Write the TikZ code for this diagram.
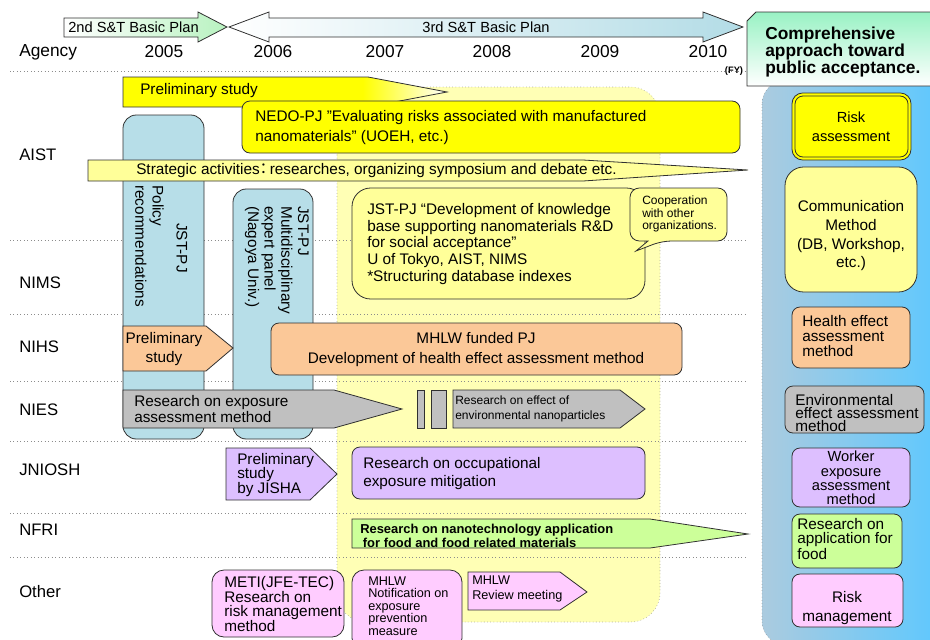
\documentclass[tikz,border=0pt]{standalone}
\usepackage{fontspec}
\setmainfont{Liberation Sans}
\newfontfamily\cjkfont{Noto Sans CJK JP}
\usetikzlibrary{positioning}
\definecolor{edge}{HTML}{303030}
\definecolor{rowdot}{HTML}{8C8C8C}
\definecolor{plangreen}{HTML}{B8F2C0}
\definecolor{planblue}{HTML}{B3DCE6}
\definecolor{bgyel}{HTML}{FFFFB5}
\definecolor{aistyel}{HTML}{FFFF00}
\definecolor{paleyel}{HTML}{FFFF99}
\definecolor{colblue}{HTML}{B7DEE8}
\definecolor{nihsorange}{HTML}{FBC898}
\definecolor{niesgray}{HTML}{C0C0C0}
\definecolor{jnioshlav}{HTML}{DDBFFF}
\definecolor{nfrigreen}{HTML}{CCFF99}
\definecolor{otherpink}{HTML}{FFCCFF}
\definecolor{mintfill}{HTML}{99F2C4}
\definecolor{panelleft}{HTML}{ABCBDF}
\definecolor{panelright}{HTML}{5CC8FF}
\pgfdeclarehorizontalshading{prelimfade}{100bp}{color(0bp)=(aistyel); color(25bp)=(aistyel); color(62bp)=(aistyel); color(75bp)=(white); color(100bp)=(white)}

\begin{document}
\begin{tikzpicture}[x=0.75pt,y=-0.75pt,
  outline/.style={draw=edge,line width=0.6pt},
  rbox/.style={outline,rounded corners=6pt},
  rowline/.style={draw=rowdot,dotted,line width=0.6pt},
  txt/.style={inner sep=0pt,align=left,font=\fontsize{11.5}{13}\selectfont},
  agency/.style={inner sep=0pt,anchor=west,font=\fontsize{12.5}{14}\selectfont},
  year/.style={inner sep=0pt,font=\fontsize{13}{15}\selectfont}]
  \clip (0,0) rectangle (930,639);

  % 3rd plan period
  \draw[rowdot,dotted,fill=bgyel,rounded corners=22pt] (337,87) rectangle (660,622);
  \foreach \yy in {71,240,314,381,441,513,557}
    \draw[rowline] (10,\yy) -- (745,\yy);

  % basic plans
  \draw[outline,left color=white,right color=plangreen] (64,18) -- (198,18) -- (198,12) -- (227,27) -- (198,42) -- (198,37) -- (64,37) -- cycle;
  \draw[outline,left color=white,right color=planblue] (229,27) -- (269,12) -- (269,18) -- (703,18) -- (703,12) -- (743,27) -- (703,42) -- (703,37) -- (269,37) -- (269,42) -- cycle;
  \node[txt,anchor=west,font=\fontsize{11}{13}\selectfont] (plan2) at (68,27) {2nd S\&T Basic Plan};
  \node[txt,font=\fontsize{11}{13}\selectfont] (plan3) at (486,27) {3rd S\&T Basic Plan};

  \node[agency,font=\fontsize{13}{15}\selectfont] (agency) at (19,52) {Agency};
  \foreach \yr/\xx in {2005/164,2006/273,2007/385,2008/492,2009/600,2010/708}
    \node[year] (y\yr) at (\xx,52) {\yr};
  \node[inner sep=0pt,font=\fontsize{7}{8}\selectfont\bfseries] (fy) at (734,71) {(FY)};
  \foreach \ag/\yy in {AIST/155,NIMS/283,NIHS/347,NIES/410,JNIOSH/470,NFRI/530,Other/592}
    \node[agency] (\ag) at (19,\yy) {\ag};

  % JST columns
  \draw[rbox,fill=colblue,rounded corners=10pt] (123,115) rectangle (204,439);
  \draw[rbox,fill=colblue,rounded corners=10pt] (233,189) rectangle (313,439);
  \node[txt,rotate=-90] (jstpj) at (182,248) {JST-PJ};
  \node[txt,rotate=-90,anchor=north west] (policy) at (164,185) {Policy\\recommendations};
  \node[txt,rotate=-90,anchor=north west,font=\fontsize{11.5}{12.5}\selectfont] (multi) at (309,206) {JST-PJ\\Multidisciplinary\\expert panel\\(Nagoya Univ.)};

  % AIST
  \draw[outline,shading=prelimfade] (123,77) -- (368,77) -- (447,92) -- (368,107) -- (123,107) -- cycle;
  \node[txt,anchor=west] (prelimaist) at (140,91) {Preliminary study};
  \draw[rbox,fill=aistyel] (242,101) rectangle (740,153);
  \node[txt,anchor=west,font=\fontsize{11.5}{15}\selectfont] (nedo) at (255,128) {NEDO-PJ ”Evaluating risks associated with manufactured\\nanomaterials” (UOEH, etc.)};
  \draw[outline,fill=paleyel] (88,160) -- (583,160) -- (748,170) -- (583,181) -- (88,181) -- cycle;
  \node[txt,anchor=west] (strategic) at (136,171) {Strategic activities{\cjkfont\kern-3pt ：\kern-1pt}researches, organizing symposium and debate etc.};
  \draw[rbox,fill=paleyel,rounded corners=14pt] (352,188) rectangle (645,299);
  \node[txt,anchor=west,font=\fontsize{11.5}{12.5}\selectfont] (jstdev) at (367,244) {JST-PJ “Development of knowledge\\base supporting nanomaterials R\&D\\for social acceptance”\\U of Tokyo, AIST, NIMS\\*Structuring database indexes};
  \draw[outline,fill=paleyel,rounded corners=7pt] (630,214) -- (630,188) -- (727,188) -- (727,241) -- (662,241) [sharp corners] -- (636,251) -- (648,241) [rounded corners=7pt] -- (630,241) -- cycle;
  \node[txt,anchor=west,font=\fontsize{9}{9.5}\selectfont] (coop) at (642,214) {Cooperation\\with other\\organizations.};

  % NIHS
  \draw[outline,fill=nihsorange] (123,326) -- (206,326) -- (233,348) -- (206,371) -- (123,371) -- cycle;
  \node[txt,align=center,font=\fontsize{11.5}{14.5}\selectfont] (prelimnihs) at (164,349) {Preliminary\\study};
  \draw[rbox,fill=nihsorange] (271,323) rectangle (682,375);
  \node[txt,align=center,font=\fontsize{11.5}{15}\selectfont] (mhlwpj) at (476,350) {MHLW funded PJ\\Development of health effect assessment method};

  % NIES
  \draw[outline,fill=niesgray] (123,390) -- (334,390) -- (402,409) -- (334,428) -- (123,428) -- cycle;
  \node[txt,anchor=west,font=\fontsize{11.5}{12}\selectfont] (expo) at (134,409) {Research on exposure\\assessment method};
  \draw[outline,fill=niesgray] (417,390) rectangle (424,428);
  \draw[outline,fill=niesgray] (431,390) rectangle (446,428);
  \draw[outline,fill=niesgray] (453,390) -- (620,390) -- (645,409) -- (620,428) -- (453,428) -- cycle;
  \node[txt,anchor=west,font=\fontsize{9}{11.5}\selectfont] (envnano) at (455,409) {Research on effect of\\environmental nanoparticles};

  % JNIOSH
  \draw[outline,fill=jnioshlav] (226,448) -- (310,448) -- (337,474) -- (310,500) -- (226,500) -- cycle;
  \node[txt,anchor=west,font=\fontsize{11.5}{11}\selectfont] (jisha) at (237,475) {Preliminary\\study\\by JISHA};
  \draw[rbox,fill=jnioshlav] (352,447) rectangle (645,499);
  \node[txt,anchor=west,font=\fontsize{11.5}{13.5}\selectfont] (occup) at (363,474) {Research on occupational\\exposure mitigation};

  % NFRI
  \draw[outline,fill=nfrigreen] (352,519) -- (650,519) -- (748,534) -- (650,548) -- (352,548) -- cycle;
  \node[txt,anchor=west,font=\fontsize{9.7}{10}\selectfont\bfseries] (food) at (360,536) {Research on nanotechnology application\\\hspace*{2pt}for food and food related materials};

  % Other
  \draw[rbox,fill=otherpink,rounded corners=9pt] (212,570) rectangle (344,637);
  \node[txt,anchor=west,font=\fontsize{11.5}{11}\selectfont] (meti) at (224,604) {METI(JFE-TEC)\\Research on\\risk management\\method};
  \draw[rbox,fill=otherpink,rounded corners=9pt] (352,570) rectangle (462,650);
  \node[txt,anchor=west,font=\fontsize{9.5}{9.3}\selectfont] (notif) at (368,606) {MHLW\\Notification on\\exposure\\prevention\\measure};
  \draw[outline,fill=otherpink] (468,572) -- (560,572) -- (587,592) -- (560,610) -- (468,610) -- cycle;
  \node[txt,anchor=west,font=\fontsize{9.5}{11}\selectfont] (review) at (472,589) {MHLW\\Review meeting};

  % public acceptance panel
  \draw[rowdot,dotted,left color=panelleft,right color=panelright,rounded corners=18pt] (762,80) rectangle (945,645);
  \draw[outline,top color=mintfill,bottom color=white] (747,86) -- (747,21) -- (756,12) -- (935,12) -- (935,86) -- cycle;
  \node[inner sep=0pt,anchor=north west,align=left,font=\fontsize{13}{12.5}\selectfont\bfseries] (goal) at (765,27) {Comprehensive\\approach toward\\public acceptance.};

  \draw[rbox,fill=aistyel,rounded corners=8pt] (792,93) rectangle (911,160);
  \draw[outline,rounded corners=6pt] (795,96) rectangle (908,157);
  \node[txt,align=center,font=\fontsize{11}{14}\selectfont] (riskass) at (851,127) {Risk\\assessment};
  \draw[rbox,fill=paleyel,rounded corners=14pt] (785,167) rectangle (917,292);
  \node[txt,align=center,font=\fontsize{11.5}{14}\selectfont] (commu) at (851,236) {Communication\\Method\\(DB, Workshop,\\etc.)};
  \draw[rbox,fill=nihsorange] (792,307) rectangle (910,368);
  \node[txt,anchor=west,font=\fontsize{11.5}{11.5}\selectfont] (health) at (802,336) {Health effect\\assessment\\method};
  \draw[rbox,fill=niesgray] (785,386) rectangle (924,433);
  \node[txt,anchor=west,font=\fontsize{11.5}{10}\selectfont] (enveff) at (795,413) {Environmental\\effect assessment\\method};
  \draw[rbox,fill=jnioshlav] (792,448) rectangle (910,507);
  \node[txt,align=center,font=\fontsize{11}{10.7}\selectfont] (worker) at (851,478) {Worker\\exposure\\assessment\\method};
  \draw[rbox,fill=nfrigreen] (792,514) rectangle (902,568);
  \node[txt,anchor=west,font=\fontsize{11.5}{10.5}\selectfont] (appfood) at (797,539) {Research on\\application for\\food};
  \draw[rbox,fill=otherpink] (792,574) rectangle (903,627);
  \node[txt,align=center,font=\fontsize{11.5}{14}\selectfont] (riskman) at (847,608) {Risk\\management};
\end{tikzpicture}
\end{document}
